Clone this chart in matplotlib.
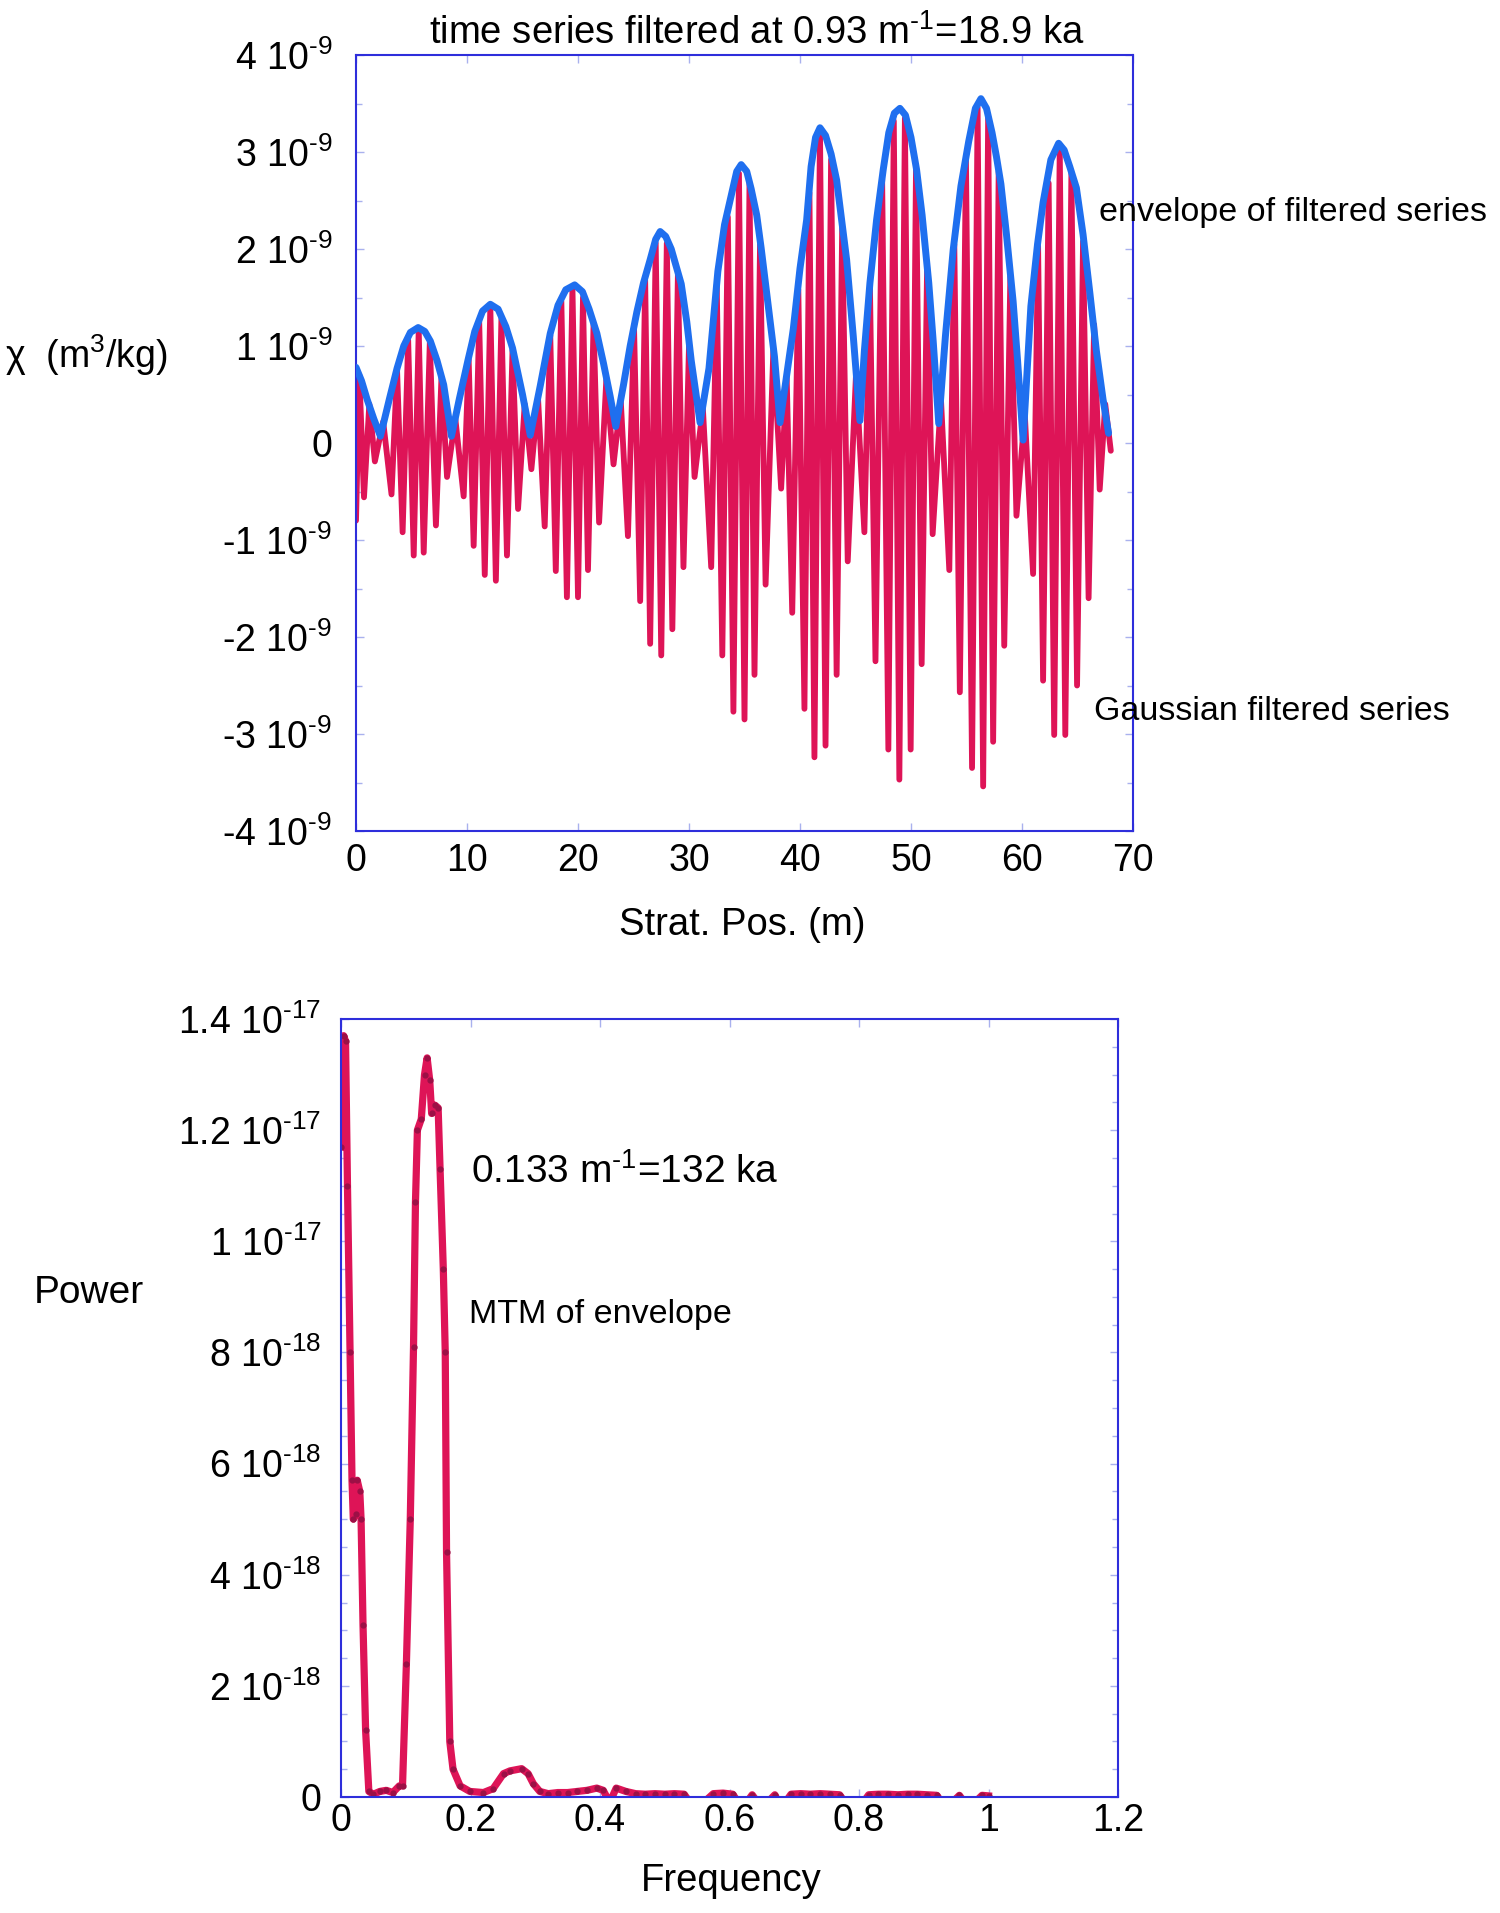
import numpy as np
import matplotlib
matplotlib.use("Agg")
import matplotlib.pyplot as plt
from matplotlib.ticker import MultipleLocator, FixedLocator

plt.rcParams["font.family"] = ["Liberation Sans", "DejaVu Sans"]
plt.rcParams["mathtext.fontset"] = "custom"
plt.rcParams["mathtext.rm"] = "Liberation Sans"
plt.rcParams["mathtext.default"] = "regular"

# --- top panel: Gaussian filtered series (units of 1e-9 m3/kg) ---
red_pos = [
    0.0, 0.3, 0.72, 1.2, 1.7, 2.45, 3.2, 3.7, 4.2, 4.7, 5.2, 5.65, 6.1, 6.65,
    7.2, 7.7, 8.2, 8.95, 9.7, 10.15, 10.6, 11.1, 11.6, 12.1, 12.6, 13.1, 13.6,
    14.1, 14.6, 15.2, 15.8, 16.4, 17.0, 17.5, 18.0, 18.5, 19.0, 19.5, 20.0,
    20.45, 20.9, 21.4, 21.9, 22.55, 23.2, 23.85, 24.5, 25.05, 25.6, 26.05,
    26.5, 27.0, 27.5, 28.0, 28.5, 29.0, 29.5, 30.0, 30.5, 31.25, 32.0, 32.5,
    33.0, 33.5, 34.0, 34.5, 35.0, 35.45, 35.9, 36.4, 36.9, 37.6, 38.3, 38.8,
    39.3, 39.85, 40.4, 40.85, 41.3, 41.8, 42.3, 42.8, 43.3, 43.8, 44.3, 45.05,
    45.8, 46.3, 46.8, 47.4, 47.96, 48.45, 48.95, 49.45, 49.97, 50.45, 50.96,
    51.45, 51.95, 52.7, 53.45, 53.9, 54.4, 54.95, 55.5, 56.0, 56.5, 56.95,
    57.4, 57.9, 58.4, 58.95, 59.5, 60.25, 61.0, 61.45, 61.9, 62.4, 62.9, 63.4,
    63.9, 64.45, 64.96, 65.5, 66.0, 66.5, 67.0, 67.5, 68.0,
]
red_val = [
    -0.80, 0.70, -0.56, 0.40, -0.19, 0.22, -0.53, 0.75, -0.92, 1.06, -1.16,
    1.17, -1.13, 1.04, -0.85, 0.68, -0.35, 0.25, -0.55, 0.86, -1.06, 1.25,
    -1.36, 1.41, -1.42, 1.28, -1.16, 0.96, -0.68, 0.40, -0.27, 0.46, -0.86,
    1.11, -1.32, 1.46, -1.59, 1.60, -1.59, 1.50, -1.31, 1.22, -0.82, 0.65,
    -0.22, 0.44, -0.96, 1.18, -1.63, 1.68, -2.07, 2.06, -2.19, 2.06, -1.92,
    1.74, -1.28, 1.00, -0.35, 0.36, -1.28, 1.63, -2.19, 2.33, -2.77, 2.78,
    -2.85, 2.68, -2.39, 2.05, -1.46, 0.96, -0.47, 0.68, -1.75, 1.58, -2.74,
    2.58, -3.24, 3.22, -3.12, 2.92, -2.39, 2.22, -1.22, 0.72, -0.92, 1.62,
    -2.25, 2.72, -3.16, 3.32, -3.47, 3.35, -3.16, 2.82, -2.28, 1.82, -0.94,
    0.45, -1.31, 2.05, -2.57, 2.92, -3.35, 3.46, -3.54, 3.37, -3.08, 2.80,
    -2.09, 1.72, -0.75, 0.30, -1.35, 2.03, -2.45, 2.68, -3.01, 3.05, -3.01,
    2.78, -2.50, 2.08, -1.60, 1.22, -0.48, 0.40, -0.08,
]

# envelope of the filtered series (units of 1e-9 m3/kg)
env_pos = [
    0.0, 0.5, 1.0, 1.6, 2.2,
    3.0, 3.7, 4.3, 4.9, 5.6, 6.2, 6.7, 7.3, 7.9, 8.6,
    9.3, 10.1, 10.7, 11.4, 12.1, 12.8, 13.5, 14.1, 15.0, 15.7,
    16.6, 17.5, 18.2, 18.9, 19.7, 20.4, 21.0, 21.7, 22.3, 22.9, 23.4,
    24.1, 24.7, 25.3, 25.9, 26.5, 27.0, 27.4, 27.9, 28.4, 29.3, 29.8, 30.2,
    31.0,
    31.8, 32.6, 33.2, 33.8, 34.3, 34.7, 35.2, 35.6, 36.1, 36.5, 37.1, 37.7,
    38.2,
    38.8, 39.4, 40.0, 40.6, 41.0, 41.4, 41.8, 42.3, 42.8, 43.3, 44.2, 44.8,
    45.4,
    45.8, 46.3, 46.9, 47.5, 48.0, 48.5, 49.0, 49.5, 50.0, 50.5, 51.0, 51.6,
    52.0, 52.5,
    53.1, 53.8, 54.5, 55.2, 55.8, 56.3, 56.8, 57.3, 57.7, 58.1, 58.6, 59.2,
    59.6, 60.1,
    60.8, 61.4, 61.9, 62.6, 63.3, 63.8, 64.3, 64.9, 65.5, 66.1, 66.7, 67.3,
    67.8,
]
env_val = [
    0.78, 0.64, 0.45, 0.25, 0.07,
    0.45, 0.77, 1.00, 1.14, 1.19, 1.15, 1.05, 0.85, 0.60, 0.07,
    0.45, 0.86, 1.15, 1.36, 1.43, 1.38, 1.20, 0.98, 0.50, 0.08,
    0.59, 1.13, 1.42, 1.58, 1.63, 1.56, 1.38, 1.13, 0.82, 0.48, 0.17,
    0.60, 1.00, 1.35, 1.65, 1.89, 2.10, 2.18, 2.13, 2.00, 1.64, 1.25, 0.85,
    0.21,
    0.77, 1.77, 2.25, 2.55, 2.80, 2.87, 2.80, 2.62, 2.35, 2.01, 1.45, 0.89,
    0.21,
    0.70, 1.18, 1.80, 2.30, 2.85, 3.15, 3.25, 3.17, 2.98, 2.71, 1.89, 1.10,
    0.23,
    0.95, 1.65, 2.30, 2.82, 3.20, 3.40, 3.45, 3.38, 3.15, 2.82, 2.35, 1.65,
    1.05, 0.20,
    1.10, 1.99, 2.65, 3.11, 3.45, 3.55, 3.45, 3.20, 2.95, 2.67, 2.15, 1.46,
    0.85, 0.03,
    1.41, 2.05, 2.48, 2.92, 3.09, 3.02, 2.85, 2.63, 2.15, 1.56, 0.95, 0.45,
    0.10,
]

top_xticks = [0, 10, 20, 30, 40, 50, 60, 70]
top_yticks = [-4, -3, -2, -1, 0, 1, 2, 3, 4]
top_yticklabels = [r"-4 10$^{\text{-9}}$", r"-3 10$^{\text{-9}}$",
                   r"-2 10$^{\text{-9}}$", r"-1 10$^{\text{-9}}$", "0",
                   r"1 10$^{\text{-9}}$", r"2 10$^{\text{-9}}$",
                   r"3 10$^{\text{-9}}$", r"4 10$^{\text{-9}}$"]

# --- bottom panel: MTM spectrum of the envelope (units of 1e-17) ---
mtm_freq = [
    0.0, 0.004, 0.007, 0.010, 0.014, 0.017, 0.019, 0.023, 0.025, 0.029,
    0.031, 0.034, 0.038, 0.043, 0.05, 0.06, 0.07, 0.08, 0.09, 0.095, 0.101,
    0.107, 0.112, 0.115, 0.118, 0.124, 0.129, 0.133, 0.137, 0.140, 0.145,
    0.150, 0.153, 0.158, 0.161, 0.163, 0.168, 0.173, 0.184, 0.199, 0.22,
    0.235, 0.251, 0.261, 0.279, 0.289, 0.297, 0.307, 0.32, 0.335, 0.35,
    0.365, 0.38, 0.395, 0.405, 0.415, 0.425, 0.44, 0.455, 0.47, 0.485, 0.50,
    0.515, 0.53, 0.545, 0.56, 0.575, 0.59, 0.605, 0.62, 0.635, 0.65, 0.67,
    0.68, 0.695, 0.71, 0.725, 0.74, 0.755, 0.77, 0.785, 0.80, 0.815, 0.83,
    0.845, 0.86, 0.875, 0.89, 0.905, 0.92, 0.935, 0.955, 0.97, 0.99, 1.0,
]
mtm_power = [
    1.17, 1.37, 1.36, 1.10, 0.80, 0.57, 0.50, 0.51, 0.57, 0.55, 0.50, 0.31,
    0.12, 0.01, 0.005, 0.01, 0.012, 0.008, 0.02, 0.02, 0.24, 0.50, 0.81,
    1.07, 1.20, 1.22, 1.30, 1.33, 1.29, 1.23, 1.245, 1.24, 1.13, 0.95, 0.80,
    0.44, 0.10, 0.05, 0.02, 0.01, 0.008, 0.015, 0.042, 0.047, 0.051, 0.042,
    0.024, 0.010, 0.006, 0.008, 0.008, 0.010, 0.012, 0.016, 0.012, -0.01,
    0.016, 0.010, 0.006, 0.005, 0.006, 0.005, 0.006, 0.005, -0.02, -0.01,
    0.006, 0.007, 0.005, -0.02, 0.004, -0.02, 0.004, -0.02, 0.005, 0.006,
    0.005, 0.006, 0.005, 0.004, -0.02, -0.02, 0.004, 0.005, 0.005, 0.004,
    0.005, 0.005, 0.004, 0.003, -0.02, 0.003, -0.02, 0.003, 0.002,
]

bot_xticks = [0, 0.2, 0.4, 0.6, 0.8, 1.0, 1.2]
bot_xticklabels = ["0", "0.2", "0.4", "0.6", "0.8", "1", "1.2"]
bot_yticks = [0, 0.2, 0.4, 0.6, 0.8, 1.0, 1.2, 1.4]
bot_yticklabels = ["0", r"2 10$^{\text{-18}}$", r"4 10$^{\text{-18}}$",
                   r"6 10$^{\text{-18}}$", r"8 10$^{\text{-18}}$",
                   r"1 10$^{\text{-17}}$", r"1.2 10$^{\text{-17}}$",
                   r"1.4 10$^{\text{-17}}$"]

RED = "#DE1457"
BLUE = "#1F6FEF"
FRAME = "#2E2EDB"
TICK = "#A9B1EE"

W, H = 1500, 1913
fig = plt.figure(figsize=(W / 100, H / 100), dpi=100)


def px_axes(left, top, right, bottom):
    return fig.add_axes([left / W, 1 - bottom / H, (right - left) / W,
                         (bottom - top) / H])


def style_axes(ax, ypad, xpad):
    for s in ax.spines.values():
        s.set_color(FRAME)
        s.set_linewidth(1.5)
    ax.tick_params(which="both", direction="in", top=True, right=True,
                   color=TICK, labelsize=27)
    ax.tick_params(which="major", length=6, width=1)
    ax.tick_params(which="minor", length=4, width=1)
    ax.tick_params(axis="y", pad=ypad)
    ax.tick_params(axis="x", pad=xpad)


# top panel
ax1 = px_axes(356, 55, 1133, 831)
ax1.plot(red_pos, np.array(red_val) * 1e-9, color=RED, lw=4.2,
         solid_joinstyle="round", solid_capstyle="round", zorder=2)
ax1.plot(env_pos, np.array(env_val) * 1e-9, color=BLUE, lw=5,
         solid_joinstyle="round", solid_capstyle="round", zorder=3)
ax1.set_xlim(0, 70)
ax1.set_ylim(-4e-9, 4e-9)
ax1.xaxis.set_major_locator(FixedLocator(top_xticks))
ax1.set_xticklabels([str(t) for t in top_xticks])
ax1.set_yticks(np.array(top_yticks) * 1e-9)
ax1.set_yticklabels(top_yticklabels)
ax1.yaxis.set_minor_locator(MultipleLocator(0.5e-9))
style_axes(ax1, ypad=17, xpad=8.5)

# bottom panel
ax2 = px_axes(341, 1019, 1118, 1797)
ax2.plot(mtm_freq, np.array(mtm_power) * 1e-17, color=RED, lw=5.2,
         marker="o", ms=3.5, mfc="#9C1046", mec="#9C1046",
         solid_joinstyle="round", zorder=2)
ax2.set_xlim(0, 1.2)
ax2.set_ylim(0, 1.4e-17)
ax2.xaxis.set_major_locator(FixedLocator(bot_xticks))
ax2.set_xticklabels(bot_xticklabels)
ax2.set_yticks(np.array(bot_yticks) * 1e-17)
ax2.set_yticklabels(bot_yticklabels)
ax2.yaxis.set_minor_locator(MultipleLocator(0.05e-17))
style_axes(ax2, ypad=14, xpad=4.5)

# texts
fig.text(757 / W, 1 - 33 / H,
         r"time series filtered at 0.93 m$^{\text{-1}}$=18.9 ka",
         ha="center", va="center", fontsize=27.5)
fig.text(5 / W, 1 - 355 / H, "χ  (m$^{3}$/kg)", ha="left", va="center",
         fontsize=27)
fig.text(742 / W, 1 - 925 / H, "Strat. Pos. (m)", ha="center", va="center",
         fontsize=27.5)
fig.text(1099 / W, 1 - 213 / H, "envelope of filtered series", ha="left",
         va="center", fontsize=24.5)
fig.text(1094 / W, 1 - 712 / H, "Gaussian filtered series", ha="left",
         va="center", fontsize=24.5)

fig.text(34 / W, 1 - 1293 / H, "Power", ha="left", va="center", fontsize=28)
fig.text(471 / W, 1 - 1172 / H, r"0.133 m$^{\text{-1}}$=132 ka", ha="left",
         va="center", fontsize=28)
fig.text(469 / W, 1 - 1314 / H, "MTM of envelope", ha="left", va="center",
         fontsize=24.5)
fig.text(731 / W, 1 - 1881 / H, "Frequency", ha="center", va="center",
         fontsize=27.5)

fig.savefig("out.png", dpi=100)
